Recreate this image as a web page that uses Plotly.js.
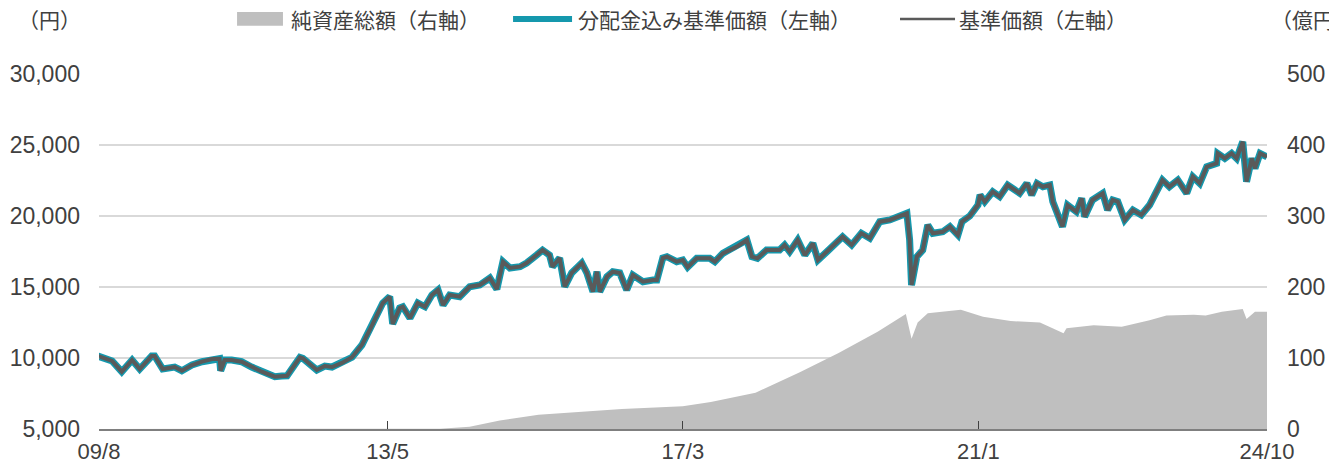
<!DOCTYPE html>
<html>
<head>
<meta charset="utf-8">
<script src="https://cdn.plot.ly/plotly-3.0.1.min.js"></script>
<style>html,body{margin:0;padding:0;background:#fff;}#chart{width:1329px;height:466px;}</style>
</head>
<body>
<div id="chart"></div>
<script>
// 基準価額（円） — dates and values
const navDates = [
"2009-08-31","2009-09-04","2009-11-01","2009-12-17","2010-02-04","2010-03-12","2010-05-08","2010-05-22","2010-06-29","2010-08-25",
"2010-09-28","2010-11-15","2011-01-02","2011-02-18","2011-03-26","2011-03-31","2011-04-19","2011-05-22","2011-07-08","2011-08-25",
"2011-10-12","2011-12-13","2012-01-15","2012-02-09","2012-04-10","2012-04-24","2012-06-29","2012-08-06","2012-09-09","2012-10-26",
"2012-12-13","2013-01-29","2013-03-07","2013-04-14","2013-05-08","2013-06-10","2013-06-24","2013-07-27","2013-08-11","2013-09-14",
"2013-10-21","2013-11-24","2013-12-27","2014-01-25","2014-02-18","2014-03-21","2014-05-08","2014-06-24","2014-08-11","2014-09-28",
"2014-10-31","2014-11-29","2015-01-01","2015-02-18","2015-03-21","2015-05-08","2015-06-05","2015-07-08","2015-07-22","2015-08-25",
"2015-09-18","2015-10-21","2015-12-08","2016-01-01","2016-01-30","2016-02-18","2016-03-02","2016-04-05","2016-05-03","2016-06-05",
"2016-07-08","2016-08-06","2016-09-23","2016-11-10","2016-11-28","2016-12-26","2017-01-15","2017-03-02","2017-03-31","2017-04-23",
"2017-06-05","2017-08-06","2017-08-30","2017-10-07","2017-12-12","2018-01-29","2018-02-22","2018-03-20","2018-05-02","2018-07-03",
"2018-07-27","2018-08-20","2018-09-27","2018-10-31","2018-12-08","2019-01-01","2019-02-13","2019-04-28","2019-06-10","2019-07-26",
"2019-09-04","2019-10-21","2019-12-08","2020-01-24","2020-02-27","2020-03-11","2020-03-20","2020-04-14","2020-05-12","2020-06-05",
"2020-06-29","2020-08-15","2020-09-18","2020-10-26","2020-11-14","2020-12-21","2021-01-29","2021-02-08","2021-03-02","2021-04-09",
"2021-05-12","2021-06-19","2021-08-15","2021-09-18","2021-10-11","2021-11-05","2021-12-03","2022-01-05","2022-01-19","2022-03-06",
"2022-03-30","2022-05-11","2022-06-05","2022-06-19","2022-07-26","2022-09-13","2022-10-06","2022-10-30","2022-11-23","2022-12-26",
"2023-02-03","2023-03-15","2023-04-23","2023-06-23","2023-07-26","2023-09-04","2023-10-16","2023-11-14","2023-12-17","2024-01-19",
"2024-03-06","2024-03-11","2024-04-14","2024-05-16","2024-06-09","2024-07-08","2024-07-26","2024-08-20","2024-09-04","2024-09-28",
"2024-10-31"
];
const navValues = [
10050,10090,9790,9035,9860,9225,10140,10140,9225,9365,
9105,9505,9740,9930,9950,9105,9860,9860,9740,9365,
9035,8680,8730,8750,10050,9980,9155,9435,9365,9650,
10050,10915,11970,13170,13870,14320,12400,13520,13610,12815,
13870,13610,14435,14790,13730,14435,14320,15020,15140,15630,
14850,16780,16340,16430,16690,17250,17600,17250,16430,17040,
15020,15990,16690,15990,14670,16080,14670,15720,16080,15990,
14790,15840,15370,15490,15490,17040,17130,16780,16900,16400,
17020,17020,16780,17370,17840,18310,17130,17020,17600,17600,
17960,17490,18310,17250,18080,16900,17490,18540,17960,18780,
18430,19600,19720,19950,20190,18310,15140,17130,17600,19370,
18780,18890,19250,18660,19600,20000,20770,21480,21010,21710,
21360,22180,21600,22300,21480,22300,22060,22180,21010,19250,
20770,20300,21240,19950,21130,21600,20420,21130,21010,19720,
20420,20070,20770,22530,22060,22530,21600,22770,22300,23470,
23710,24410,24060,24410,24060,25230,22420,24060,23360,24410,
24170
];
// 分配金込み基準価額（円） — no distributions paid, so it coincides with the NAV
const navWithDistValues = navValues.slice();

// 純資産総額（億円）
const assetDates = [
"2009-08-31","2013-12-31","2014-02-04","2014-06-24","2014-11-14","2015-05-17","2015-11-28","2016-06-15","2017-03-31","2017-08-11",
"2018-03-11","2018-10-07","2019-04-09","2019-10-11","2020-02-22","2020-03-20","2020-04-18","2020-06-05","2020-11-09","2021-02-22",
"2021-07-03","2021-11-19","2022-03-11","2022-03-25","2022-08-01","2022-12-12","2023-04-23","2023-07-12","2023-11-18","2024-01-14",
"2024-03-31","2024-07-08","2024-07-26","2024-09-04","2024-10-31"
];
const assetValues = [
0,0,0.5,3,12,20,24,28,32,38,
51,80,107,137,162,127,150,163,168,158,
152,150,135,142,146,144,153,160,161,160,
165,169,155,165,165
];

// axis ticks and legend labels
const xTickVals = ["2009-08-31","2013-05-31","2017-03-31","2021-01-31","2024-10-31"];
const xTickText = ["09/8","13/5","17/3","21/1","24/10"];
const legendNames = ["純資産総額（右軸）","分配金込み基準価額（左軸）","基準価額（左軸）"];
const unitLeft = "（円）";
const unitRight = "（億円）";

const colAsset = "#bfbfbf", colDist = "#1598ad", colNav = "#5a5a5a";
const tickFont = {family:"Liberation Sans, Arial, sans-serif", size:23, color:"#404040"};
const xTickFont = {family:"Liberation Sans, Arial, sans-serif", size:22, color:"#404040"};
const jpFont = {family:"Noto Sans CJK JP, sans-serif", size:21, color:"#404040"};

const traces = [
  {x:assetDates, y:assetValues, name:legendNames[0], type:"scatter", mode:"lines",
   fill:"tozeroy", fillcolor:colAsset, line:{width:0, color:colAsset}, yaxis:"y2", hoverinfo:"skip"},
  {x:navDates, y:navWithDistValues, name:legendNames[1], type:"scatter", mode:"lines",
   line:{color:colDist, width:7}, hoverinfo:"skip"},
  {x:navDates, y:navValues, name:legendNames[2], type:"scatter", mode:"lines",
   line:{color:colNav, width:4}, hoverinfo:"skip"}
];

// legend drawn at the top (paper coordinates)
const legY = 1.155;
const legendShapes = [
  {type:"rect", xref:"paper", yref:"paper", x0:0.1182, x1:0.1575, y0:1.136, y1:1.175, fillcolor:colAsset, line:{width:0}},
  {type:"line", xref:"paper", yref:"paper", x0:0.3545, x1:0.4050, y0:legY, y1:legY, line:{color:colDist, width:6}},
  {type:"line", xref:"paper", yref:"paper", x0:0.6858, x1:0.7329, y0:legY, y1:legY, line:{color:colNav, width:2.5}}
];
const legendTextX = [0.1630, 0.4080, 0.7345];
const annotations = legendNames.map((t,i)=>({text:t, xref:"paper", yref:"paper", x:legendTextX[i], y:legY,
  xanchor:"left", yanchor:"middle", showarrow:false, font:jpFont}));
annotations.push({text:unitLeft, xref:"paper", yref:"paper", x:-0.042, y:legY, xanchor:"center", yanchor:"middle", showarrow:false, font:jpFont});
annotations.push({text:unitRight, xref:"paper", yref:"paper", x:1.002, y:legY, xanchor:"left", yanchor:"middle", showarrow:false, font:jpFont});

const layout = {
  width:1329, height:466,
  margin:{l:99, r:62, t:74, b:37, autoexpand:false},
  paper_bgcolor:"#fff", plot_bgcolor:"#fff",
  showlegend:false,
  xaxis:{type:"date", range:["2009-08-31","2024-10-31"], tickvals:xTickVals, ticktext:xTickText,
         showgrid:false, zeroline:false, showline:true, linecolor:"#7f7f7f", linewidth:2,
         ticks:"inside", ticklen:8, tickcolor:"#404040", tickwidth:1, tickfont:xTickFont, ticklabelstandoff:2, fixedrange:true},
  yaxis:{range:[5000,30000], dtick:5000, tick0:5000, tickformat:",d", showgrid:true, gridcolor:"#d9d9d9", gridwidth:1.5,
         zeroline:false, showline:false, ticks:"", tickfont:tickFont, ticklabelstandoff:18, fixedrange:true},
  yaxis2:{range:[0,500], dtick:100, tick0:0, overlaying:"y", side:"right", showgrid:false, zeroline:false,
          showline:false, ticks:"", tickfont:tickFont, ticklabelstandoff:19, fixedrange:true},
  shapes:legendShapes,
  annotations:annotations
};

Plotly.newPlot("chart", traces, layout, {displayModeBar:false, staticPlot:true});
</script>
</body>
</html>
